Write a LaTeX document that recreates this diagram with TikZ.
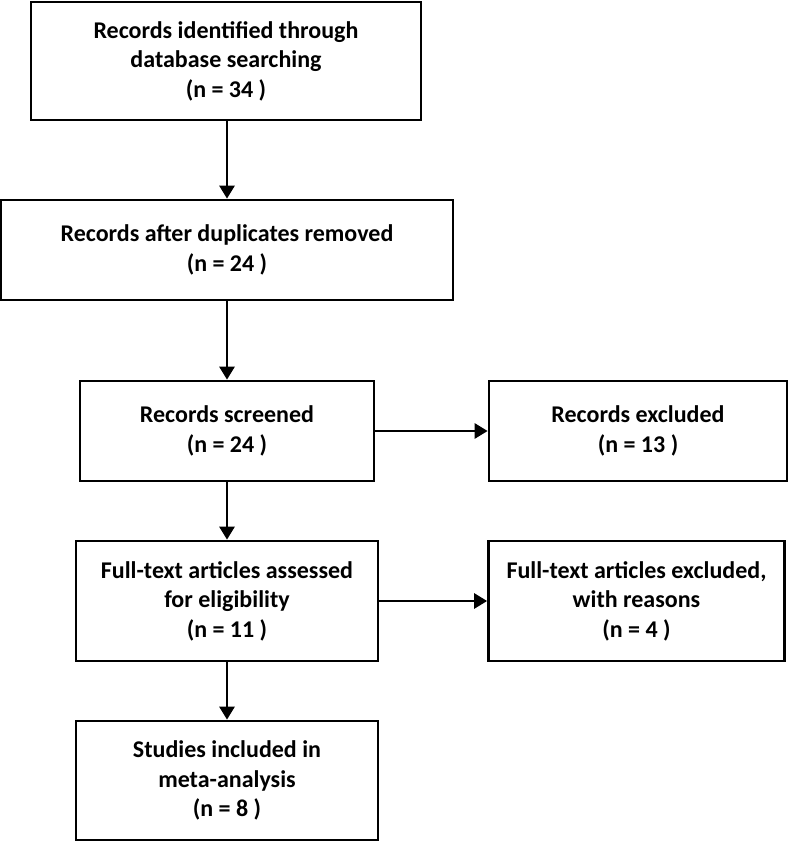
\documentclass[tikz,border=0pt]{standalone}
\usepackage{fontspec}
\setmainfont{Carlito}
\usetikzlibrary{arrows.meta}
\begin{document}
\begin{tikzpicture}[x=1pt,y=-1pt,
  box/.style={draw, line width=2.7pt, align=center, inner sep=0pt,
    font=\fontsize{24}{29.5}\selectfont\bfseries},
  arr/.style={line width=2.7pt, -{Triangle[width=15pt,length=13pt]}}]
\useasboundingbox (0,0) rectangle (789,842);
\node[box, minimum width=390pt, minimum height=118pt] (a) at (226,61) {Records identified through\\database searching\\(n = 34 )};
\node[box, minimum width=452pt, minimum height=100pt] (b) at (227,250) {Records after duplicates removed\\(n = 24 )};
\node[box, minimum width=294pt, minimum height=100pt] (sc) at (227,431) {Records screened\\(n = 24 )};
\node[box, minimum width=298pt, minimum height=100pt] (ex) at (638,431) {Records excluded\\(n = 13 )};
\node[box, minimum width=302pt, minimum height=120pt] (ft) at (227,601) {Full-text articles assessed\\for eligibility\\(n = 11 )};
\node[box, minimum width=296pt, minimum height=120pt] (fx) at (636.5,601) {Full-text articles excluded,\\with reasons\\(n = 4 )};
\node[box, minimum width=302pt, minimum height=119pt] (st) at (227,780.5) {Studies included in\\meta-analysis\\(n = 8 )};
\draw[arr] (a.south -| b.north) -- (b.north);
\draw[arr] (b.south) -- (sc.north);
\draw[arr] (sc.east) -- (ex.west);
\draw[arr] (sc.south) -- (ft.north);
\draw[arr] (ft.east) -- (fx.west);
\draw[arr] (ft.south) -- (st.north);
\end{tikzpicture}
\end{document}
